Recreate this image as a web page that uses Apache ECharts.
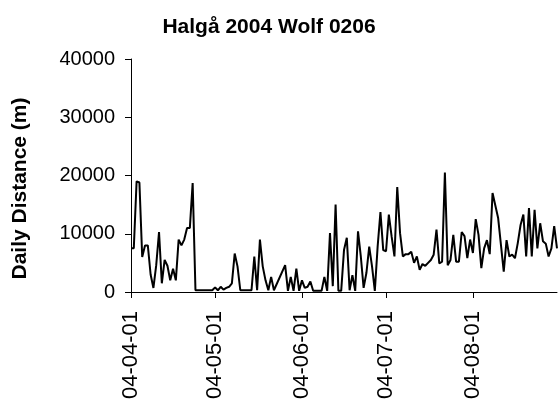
<!DOCTYPE html>
<html>
<head>
<meta charset="utf-8">
<script src="https://cdn.jsdelivr.net/npm/echarts@6/dist/echarts.min.js"></script>
<style>
html,body{margin:0;padding:0;background:#fff}
#chart{width:558px;height:403px}
</style>
</head>
<body>
<div id="chart"></div>
<script>
// daily values from 2004-04-01 to 2004-08-31, null = no fix that day
var firstDay = Date.UTC(2004, 3, 1);
var dayCount = 153;
var tickLabels = ['04-04-01', '04-05-01', '04-06-01', '04-07-01', '04-08-01'];
var yMin = 0, yMax = 40000, yStep = 10000;
var distance = [
  7500, 7500, 19000, 18800, 6000, 8000, 8000, 3000, 700, 4600,
  10300, 1500, 5500, 4500, 2000, 4000, 2000, 9000, 8000, 9000,
  11000, 11000, 18700, 300, 300, 300, 300, 300, 300, 300,
  800, 300, 900, 400, 700, 900, 1500, 6600, 4400, 300,
  300, 300, 300, 300, 6100, 300, 9000, 4400, 2000, 300,
  2600, 300, null, null, null, 4600, 200, 2600, 200, 4000,
  200, 2000, 700, 900, 1800, 200, 200, 200, 200, 2600,
  200, 10100, 1000, 15000, 200, 200, 7200, 9300, 300, 2900,
  200, 10400, 6100, 700, 3300, 7800, 4400, 200, 7800, 13700,
  7200, 7000, 13300, 9500, 6100, 18000, 10100, 6100, 6500, 6500,
  6900, 5000, 6100, 3800, 4800, 4500, 5000, 5500, 6400, 10700,
  4900, 5200, 20500, 4600, 5500, 9800, 5200, 5200, 10300, 9600,
  5800, 9000, 6700, 12500, 9800, 4100, 7500, 8900, 6500, 17000,
  null, 12700, null, 3500, 8900, 6100, 6400, 5800, 8400, 11500,
  13300, 6100, 14400, 6100, 14100, 7500, 11800, 8700, 8300, 6100,
  7500, 11300, 7500
];

function pad(n){ return n < 10 ? '0' + n : '' + n; }
var days = [];
for (var i = 0; i < dayCount; i++) {
  var d = new Date(firstDay + i * 86400000);
  days.push(pad(d.getUTCFullYear() % 100) + '-' + pad(d.getUTCMonth() + 1) + '-' + pad(d.getUTCDate()));
}
function isTick(idx){ return tickLabels.indexOf(days[idx]) >= 0; }

var font = 'Liberation Sans, Arial, sans-serif';
var chart = echarts.init(document.getElementById('chart'));
var option = {
  animation: false,
  textStyle: { fontFamily: font, color: '#000' },
  title: {
    text: 'Halgå 2004 Wolf 0206',
    left: 264,
    textAlign: 'center',
    top: 12,
    textStyle: { fontFamily: font, fontSize: 21, fontWeight: 'bold', color: '#000' }
  },
  grid: { left: 131, right: 1, top: 59, bottom: 111 },
  xAxis: {
    type: 'category',
    data: days,
    boundaryGap: false,
    axisLine: { lineStyle: { color: '#000', width: 1 } },
    axisTick: { show: true, interval: function(idx){ return isTick(idx); }, length: 6, lineStyle: { color: '#000' } },
    axisLabel: {
      interval: function(idx){ return isTick(idx); },
      rotate: 90,
      margin: 19,
      fontSize: 22,
      color: '#000',
      fontFamily: font
    },
    splitLine: { show: false }
  },
  yAxis: {
    type: 'value',
    min: yMin,
    max: yMax,
    interval: yStep,
    name: 'Daily Distance (m)',
    nameLocation: 'middle',
    nameRotate: 90,
    nameGap: 100,
    nameTextStyle: { fontFamily: font, fontSize: 21, fontWeight: 'bold', color: '#000', padding: [0, 26, 0, 0] },
    axisLine: { show: true, lineStyle: { color: '#000', width: 1 } },
    axisTick: { show: true, length: 6, lineStyle: { color: '#000' } },
    axisLabel: {
      margin: 16, fontSize: 20, color: '#000', fontFamily: font,
      formatter: function(v){ return String(v); }
    },
    splitLine: { show: false }
  },
  series: [{
    type: 'line',
    data: distance,
    connectNulls: true,
    symbol: 'none',
    lineStyle: { color: '#000', width: 2 }
  }]
};
chart.setOption(option);
</script>
</body>
</html>
